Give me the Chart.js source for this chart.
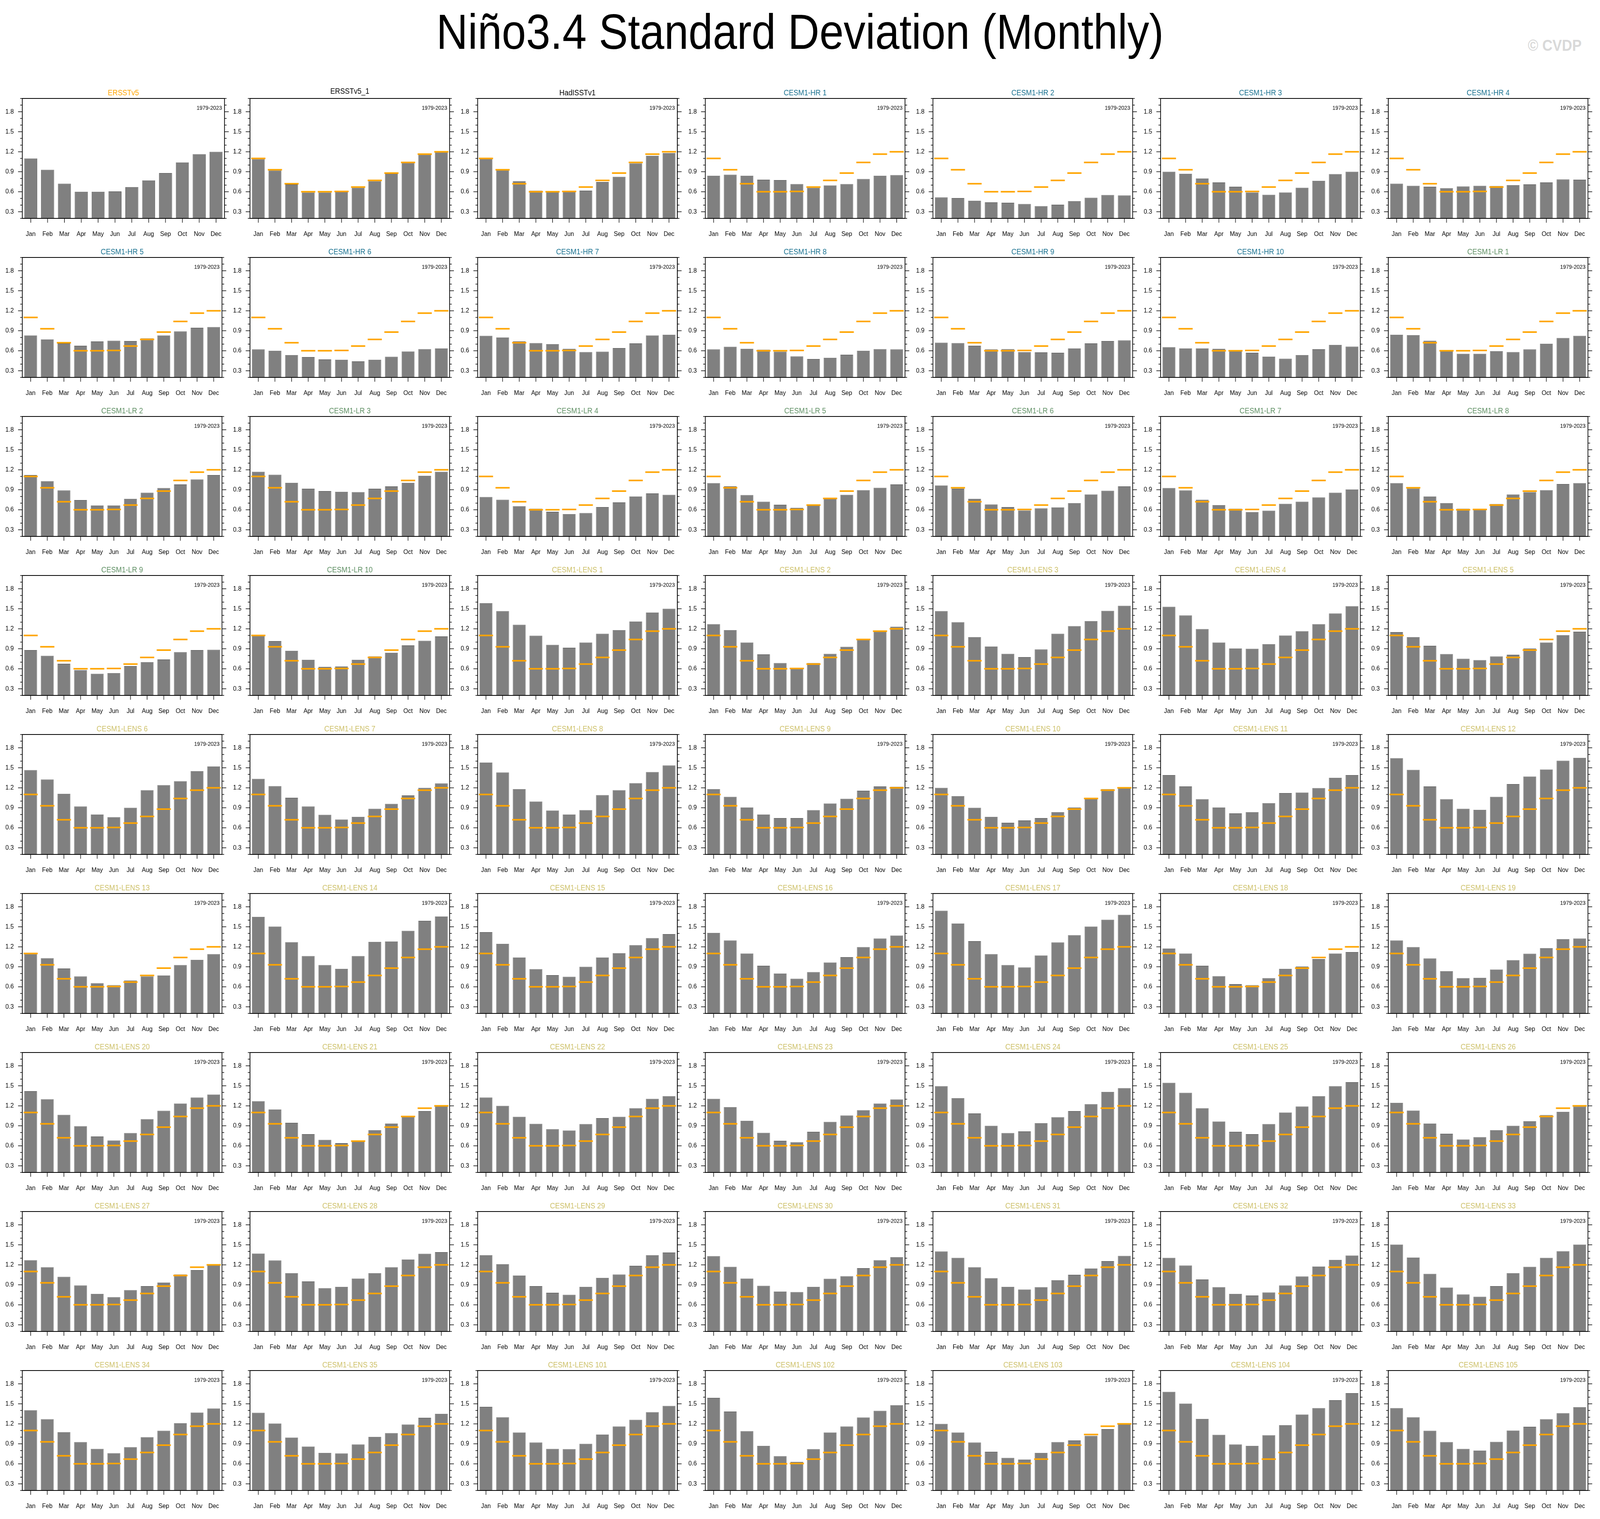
<!DOCTYPE html>
<html>
<head>
<meta charset="utf-8">
<script src="https://cdn.jsdelivr.net/npm/chart.js@4/dist/chart.umd.min.js"></script>
<style>
  html, body { margin: 0; padding: 0; background: #fff; overflow: hidden; }
  #wrap { position: absolute; left: 0; top: 0; overflow: hidden; background: #fff; }
  #page { position: absolute; left: 0; top: 0; width: 4519px; height: 3888px; transform-origin: 0 0; background: #fff; font-family: "Liberation Sans", Arial, sans-serif; }
  #title { position: absolute; left: 0; width: 4519px; top: 18px; text-align: center; font-size: 127px; line-height: 127px; color: #000; transform: scaleX(0.97); }
  #copy { position: absolute; right: 52px; top: 96px; font-size: 40px; line-height: 40px; font-weight: bold; color: #d9d9d9; }
  canvas { position: absolute; }
</style>
</head>
<body>
<div id="wrap">
  <div id="page">
    <div id="title">Niño3.4 Standard Deviation (Monthly)</div>
    <div id="copy">© CVDP</div>
  </div>
</div>
<script>
// categories
const months = ['Jan', 'Feb', 'Mar', 'Apr', 'May', 'Jun', 'Jul', 'Aug', 'Sep', 'Oct', 'Nov', 'Dec'];
const period = '1979-2023';

// observations (ERSSTv5 is also the orange reference in every other panel)
const ersstv5   = [1.10, 0.93, 0.72, 0.60, 0.60, 0.605, 0.67, 0.77, 0.88, 1.04, 1.165, 1.20];
const ersstv5_1 = [1.09, 0.92, 0.71, 0.59, 0.59, 0.595, 0.66, 0.76, 0.87, 1.035, 1.16, 1.195];
const hadisstv1 = [1.10, 0.925, 0.76, 0.615, 0.61, 0.613, 0.617, 0.745, 0.825, 1.025, 1.14, 1.18];

// CESM1-HR
const hr1  = [0.84, 0.855, 0.84, 0.78, 0.775, 0.715, 0.66, 0.695, 0.715, 0.79, 0.84, 0.85];
const hr2  = [0.515, 0.505, 0.465, 0.44, 0.435, 0.415, 0.385, 0.405, 0.46, 0.51, 0.55, 0.545];
const hr3  = [0.90, 0.87, 0.80, 0.74, 0.675, 0.59, 0.555, 0.59, 0.66, 0.765, 0.865, 0.90];
const hr4  = [0.72, 0.69, 0.675, 0.655, 0.68, 0.69, 0.685, 0.70, 0.71, 0.74, 0.785, 0.78];
const hr5  = [0.83, 0.77, 0.71, 0.675, 0.74, 0.75, 0.745, 0.785, 0.83, 0.89, 0.945, 0.955];
const hr6  = [0.62, 0.60, 0.535, 0.505, 0.47, 0.465, 0.44, 0.465, 0.51, 0.59, 0.625, 0.635];
const hr7  = [0.825, 0.80, 0.74, 0.715, 0.70, 0.63, 0.58, 0.585, 0.64, 0.71, 0.83, 0.84];
const hr8  = [0.62, 0.66, 0.63, 0.615, 0.585, 0.515, 0.475, 0.495, 0.54, 0.60, 0.625, 0.62];
const hr9  = [0.72, 0.715, 0.675, 0.62, 0.625, 0.58, 0.575, 0.57, 0.635, 0.71, 0.745, 0.755];
const hr10 = [0.655, 0.635, 0.635, 0.63, 0.60, 0.57, 0.512, 0.48, 0.536, 0.622, 0.688, 0.662];

// CESM1-LR
const lr1  = [0.84, 0.835, 0.75, 0.60, 0.555, 0.555, 0.595, 0.58, 0.62, 0.705, 0.79, 0.825];
const lr2  = [1.12, 1.03, 0.89, 0.745, 0.665, 0.665, 0.765, 0.855, 0.925, 0.98, 1.055, 1.12];
const lr3  = [1.17, 1.125, 1.005, 0.915, 0.88, 0.87, 0.865, 0.915, 0.95, 1.005, 1.11, 1.17];
const lr4  = [0.79, 0.75, 0.655, 0.615, 0.57, 0.535, 0.55, 0.64, 0.71, 0.80, 0.845, 0.825];
const lr5  = [1.0, 0.95, 0.82, 0.72, 0.675, 0.63, 0.675, 0.765, 0.825, 0.895, 0.93, 0.98];
const lr6  = [0.965, 0.915, 0.765, 0.68, 0.64, 0.59, 0.62, 0.635, 0.70, 0.83, 0.885, 0.95];
const lr7  = [0.925, 0.89, 0.75, 0.67, 0.615, 0.565, 0.585, 0.69, 0.72, 0.785, 0.855, 0.905];
const lr8  = [1.0, 0.92, 0.80, 0.70, 0.615, 0.60, 0.685, 0.83, 0.865, 0.895, 0.985, 1.0];
const lr9  = [0.88, 0.795, 0.675, 0.58, 0.525, 0.535, 0.64, 0.70, 0.74, 0.85, 0.88, 0.885];
const lr10 = [1.105, 1.015, 0.87, 0.735, 0.63, 0.635, 0.735, 0.785, 0.84, 0.95, 1.02, 1.085];

// CESM1-LENS
const lens1   = [1.585, 1.465, 1.26, 1.095, 0.96, 0.915, 0.995, 1.125, 1.18, 1.31, 1.445, 1.50];
const lens2   = [1.27, 1.18, 0.995, 0.815, 0.685, 0.605, 0.685, 0.825, 0.93, 1.04, 1.16, 1.23];
const lens3   = [1.465, 1.30, 1.075, 0.935, 0.825, 0.775, 0.89, 1.125, 1.24, 1.315, 1.47, 1.545];
const lens4   = [1.53, 1.40, 1.195, 0.995, 0.905, 0.90, 0.97, 1.10, 1.165, 1.27, 1.43, 1.54];
const lens5   = [1.15, 1.075, 0.945, 0.82, 0.75, 0.73, 0.785, 0.81, 0.905, 0.995, 1.105, 1.155];
const lens6   = [1.465, 1.325, 1.11, 0.92, 0.80, 0.76, 0.90, 1.165, 1.24, 1.30, 1.45, 1.52];
const lens7   = [1.335, 1.225, 1.05, 0.92, 0.795, 0.725, 0.765, 0.885, 0.96, 1.085, 1.20, 1.265];
const lens8   = [1.58, 1.43, 1.18, 0.995, 0.86, 0.80, 0.865, 1.09, 1.165, 1.27, 1.435, 1.535];
const lens9   = [1.18, 1.065, 0.905, 0.80, 0.745, 0.745, 0.865, 0.965, 1.035, 1.155, 1.22, 1.215];
const lens10  = [1.20, 1.075, 0.90, 0.765, 0.675, 0.71, 0.745, 0.835, 0.905, 1.045, 1.18, 1.21];
const lens11  = [1.39, 1.22, 1.03, 0.905, 0.815, 0.835, 0.97, 1.12, 1.13, 1.195, 1.35, 1.39];
const lens12  = [1.645, 1.47, 1.22, 1.03, 0.885, 0.87, 1.065, 1.255, 1.37, 1.475, 1.605, 1.65];
const lens13  = [1.095, 1.03, 0.875, 0.755, 0.655, 0.625, 0.695, 0.755, 0.77, 0.925, 1.005, 1.09];
const lens14  = [1.65, 1.505, 1.27, 1.06, 0.925, 0.87, 1.06, 1.275, 1.28, 1.44, 1.59, 1.655];
const lens15  = [1.42, 1.245, 1.04, 0.865, 0.775, 0.75, 0.90, 1.04, 1.105, 1.225, 1.33, 1.39];
const lens16  = [1.41, 1.295, 1.10, 0.915, 0.80, 0.72, 0.82, 0.965, 1.045, 1.195, 1.325, 1.37];
const lens17  = [1.74, 1.55, 1.285, 1.09, 0.925, 0.89, 1.07, 1.265, 1.375, 1.505, 1.605, 1.68];
const lens18  = [1.175, 1.10, 0.915, 0.76, 0.64, 0.625, 0.73, 0.87, 0.905, 1.015, 1.10, 1.12];
const lens19  = [1.295, 1.195, 1.025, 0.835, 0.73, 0.735, 0.86, 1.0, 1.095, 1.18, 1.315, 1.325];
const lens20  = [1.42, 1.30, 1.065, 0.895, 0.74, 0.68, 0.79, 1.0, 1.125, 1.235, 1.325, 1.37];
const lens21  = [1.27, 1.145, 0.945, 0.775, 0.69, 0.64, 0.665, 0.835, 0.935, 1.04, 1.12, 1.21];
const lens22  = [1.325, 1.20, 1.035, 0.93, 0.85, 0.83, 0.925, 1.015, 1.035, 1.165, 1.305, 1.345];
const lens23  = [1.305, 1.18, 0.975, 0.795, 0.675, 0.655, 0.81, 0.96, 1.055, 1.135, 1.235, 1.295];
const lens24  = [1.495, 1.315, 1.085, 0.90, 0.79, 0.815, 0.94, 1.03, 1.12, 1.225, 1.41, 1.465];
const lens25  = [1.545, 1.395, 1.165, 0.965, 0.81, 0.775, 0.925, 1.10, 1.19, 1.345, 1.495, 1.555];
const lens26  = [1.245, 1.13, 0.935, 0.78, 0.695, 0.73, 0.835, 0.90, 0.97, 1.06, 1.11, 1.19];
const lens27  = [1.27, 1.165, 1.02, 0.89, 0.765, 0.715, 0.82, 0.88, 0.935, 1.055, 1.12, 1.205];
const lens28  = [1.37, 1.265, 1.075, 0.95, 0.85, 0.87, 0.995, 1.075, 1.165, 1.28, 1.365, 1.39];
const lens29  = [1.345, 1.21, 1.04, 0.88, 0.78, 0.75, 0.87, 1.005, 1.055, 1.185, 1.345, 1.385];
const lens30  = [1.33, 1.17, 0.995, 0.885, 0.80, 0.79, 0.87, 0.99, 1.03, 1.15, 1.27, 1.315];
const lens31  = [1.40, 1.305, 1.165, 1.0, 0.87, 0.83, 0.865, 0.97, 1.05, 1.145, 1.255, 1.335];
const lens32  = [1.305, 1.19, 0.98, 0.865, 0.765, 0.74, 0.785, 0.89, 1.025, 1.175, 1.275, 1.34];
const lens33  = [1.505, 1.31, 1.065, 0.86, 0.755, 0.72, 0.88, 1.075, 1.17, 1.305, 1.405, 1.505];
const lens34  = [1.405, 1.27, 1.075, 0.925, 0.825, 0.76, 0.85, 1.0, 1.095, 1.21, 1.37, 1.43];
const lens35  = [1.365, 1.205, 0.995, 0.86, 0.765, 0.755, 0.89, 1.005, 1.06, 1.19, 1.29, 1.35];
const lens101 = [1.455, 1.30, 1.07, 0.92, 0.825, 0.82, 0.90, 1.04, 1.16, 1.26, 1.375, 1.47];
const lens102 = [1.59, 1.385, 1.09, 0.87, 0.715, 0.63, 0.82, 1.07, 1.16, 1.295, 1.395, 1.48];
const lens103 = [1.20, 1.07, 0.92, 0.78, 0.69, 0.665, 0.765, 0.925, 0.95, 1.02, 1.12, 1.20];
const lens104 = [1.68, 1.505, 1.275, 1.035, 0.89, 0.87, 1.03, 1.18, 1.34, 1.435, 1.555, 1.66];
const lens105 = [1.435, 1.30, 1.095, 0.925, 0.825, 0.80, 0.93, 1.10, 1.155, 1.27, 1.36, 1.45];

// panel order, left to right, top to bottom
const panels = [
  ['ERSSTv5', ersstv5], ['ERSSTv5_1', ersstv5_1], ['HadISSTv1', hadisstv1],
  ['CESM1-HR 1', hr1], ['CESM1-HR 2', hr2], ['CESM1-HR 3', hr3], ['CESM1-HR 4', hr4],
  ['CESM1-HR 5', hr5], ['CESM1-HR 6', hr6], ['CESM1-HR 7', hr7], ['CESM1-HR 8', hr8],
  ['CESM1-HR 9', hr9], ['CESM1-HR 10', hr10],
  ['CESM1-LR 1', lr1], ['CESM1-LR 2', lr2], ['CESM1-LR 3', lr3], ['CESM1-LR 4', lr4],
  ['CESM1-LR 5', lr5], ['CESM1-LR 6', lr6], ['CESM1-LR 7', lr7], ['CESM1-LR 8', lr8],
  ['CESM1-LR 9', lr9], ['CESM1-LR 10', lr10],
  ['CESM1-LENS 1', lens1], ['CESM1-LENS 2', lens2], ['CESM1-LENS 3', lens3], ['CESM1-LENS 4', lens4],
  ['CESM1-LENS 5', lens5], ['CESM1-LENS 6', lens6], ['CESM1-LENS 7', lens7], ['CESM1-LENS 8', lens8],
  ['CESM1-LENS 9', lens9], ['CESM1-LENS 10', lens10], ['CESM1-LENS 11', lens11], ['CESM1-LENS 12', lens12],
  ['CESM1-LENS 13', lens13], ['CESM1-LENS 14', lens14], ['CESM1-LENS 15', lens15], ['CESM1-LENS 16', lens16],
  ['CESM1-LENS 17', lens17], ['CESM1-LENS 18', lens18], ['CESM1-LENS 19', lens19], ['CESM1-LENS 20', lens20],
  ['CESM1-LENS 21', lens21], ['CESM1-LENS 22', lens22], ['CESM1-LENS 23', lens23], ['CESM1-LENS 24', lens24],
  ['CESM1-LENS 25', lens25], ['CESM1-LENS 26', lens26], ['CESM1-LENS 27', lens27], ['CESM1-LENS 28', lens28],
  ['CESM1-LENS 29', lens29], ['CESM1-LENS 30', lens30], ['CESM1-LENS 31', lens31], ['CESM1-LENS 32', lens32],
  ['CESM1-LENS 33', lens33], ['CESM1-LENS 34', lens34], ['CESM1-LENS 35', lens35],
  ['CESM1-LENS 101', lens101], ['CESM1-LENS 102', lens102], ['CESM1-LENS 103', lens103],
  ['CESM1-LENS 104', lens104], ['CESM1-LENS 105', lens105]
];

const FONT = '"Liberation Sans", Arial, sans-serif';

// the page is laid out at 4519x3888 and stretched onto the window the browser really gives
const fitX = Math.min(1, window.innerWidth / 4519);
const fitY = Math.min(1, window.innerHeight / 3888);
const wrap = document.getElementById('wrap');
wrap.style.width = Math.floor(4519 * fitX) + 'px';
wrap.style.height = Math.floor(3888 * fitY) + 'px';
const page = document.getElementById('page');
page.style.transform = 'scale(' + fitX + ',' + fitY + ')';

function titleColor(name) {
  if (name === 'ERSSTv5') return '#ffa500';
  if (name.startsWith('CESM1-HR')) return '#17708f';
  if (name.startsWith('CESM1-LR')) return '#5e8f63';
  if (name.startsWith('CESM1-LENS')) return '#cdc068';
  return '#000';
}

// box, tick marks, panel title and period label
const framePlugin = {
  id: 'frame',
  afterDraw(chart, args, opts) {
    const ctx = chart.ctx;
    const a = chart.chartArea;
    const x = chart.scales.x, y = chart.scales.y;
    ctx.save();
    ctx.strokeStyle = '#000';
    ctx.lineWidth = 1.5;
    ctx.beginPath();
    for (let k = 2; k <= 20; k++) {
      const py = y.getPixelForValue(k / 10);
      const len = (k % 3 === 0 && k >= 3 && k <= 18) ? 12 : 6;
      ctx.moveTo(a.left - len, py); ctx.lineTo(a.left, py);
      ctx.moveTo(a.right, py); ctx.lineTo(a.right + len, py);
    }
    months.forEach((m, i) => {
      const px = x.getPixelForValue(i);
      ctx.moveTo(px, a.bottom); ctx.lineTo(px, a.bottom + 11);
    });
    ctx.stroke();
    ctx.lineWidth = 2;
    ctx.strokeRect(a.left, a.top, a.right - a.left, a.bottom - a.top);

    ctx.fillStyle = opts.color;
    ctx.font = '20px ' + FONT;
    ctx.textAlign = 'center';
    ctx.textBaseline = 'middle';
    ctx.fillText(opts.title, (a.left + a.right) / 2, opts.title.includes('_') ? 27 : 31);

    ctx.fillStyle = '#000';
    ctx.font = '15px ' + FONT;
    ctx.textAlign = 'right';
    ctx.fillText(period, a.right - 7, a.top + 25);
    ctx.restore();
  }
};

panels.forEach(([name, values], idx) => {
  const col = idx % 7, row = Math.floor(idx / 7);
  const canvas = document.createElement('canvas');
  canvas.style.left = (8 + col * 643) + 'px';
  canvas.style.top = (207 + row * 407) + 'px';
  canvas.style.width = '643px';
  canvas.style.height = '407px';
  canvas.width = 643;
  canvas.height = 407;
  page.appendChild(canvas);

  const datasets = [{
    type: 'bar',
    data: values,
    base: 0.2,
    backgroundColor: '#808080',
    borderColor: '#4d4d4d',
    borderWidth: 1,
    barPercentage: 0.77,
    categoryPercentage: 1,
    order: 1
  }];
  if (idx > 0) {
    datasets.push({
      type: 'line',
      data: ersstv5,
      showLine: false,
      pointStyle: 'line',
      pointRadius: 20,
      pointBorderWidth: 4,
      pointBorderColor: '#ffa500',
      borderColor: '#ffa500',
      order: 0
    });
  }

  new Chart(canvas, {
    type: 'bar',
    data: { labels: months, datasets: datasets },
    options: {
      responsive: false,
      animation: false,
      devicePixelRatio: 1,
      events: [],
      layout: { padding: { top: 45, right: 17, left: 0, bottom: 0 } },
      plugins: {
        legend: { display: false },
        tooltip: { enabled: false },
        frame: { title: name, color: titleColor(name) }
      },
      scales: {
        x: {
          grid: { display: false },
          border: { display: false },
          ticks: { color: '#000', font: { family: FONT, size: 17 }, padding: 22, maxRotation: 0, autoSkip: false },
          afterFit: s => { s.height = 55; }
        },
        y: {
          min: 0.2,
          max: 2.0,
          grid: { display: false, drawTicks: false },
          border: { display: false },
          ticks: {
            stepSize: 0.1,
            autoSkip: false,
            color: '#000',
            padding: 24,
            font: { family: FONT, size: 17 },
            callback: v => {
              const k = Math.round(v * 10);
              return (k % 3 === 0 && k >= 3 && k <= 18) ? (k / 10).toFixed(1) : '';
            }
          },
          afterFit: s => { s.width = 55; }
        }
      }
    },
    plugins: [framePlugin]
  });
});
</script>
</body>
</html>
